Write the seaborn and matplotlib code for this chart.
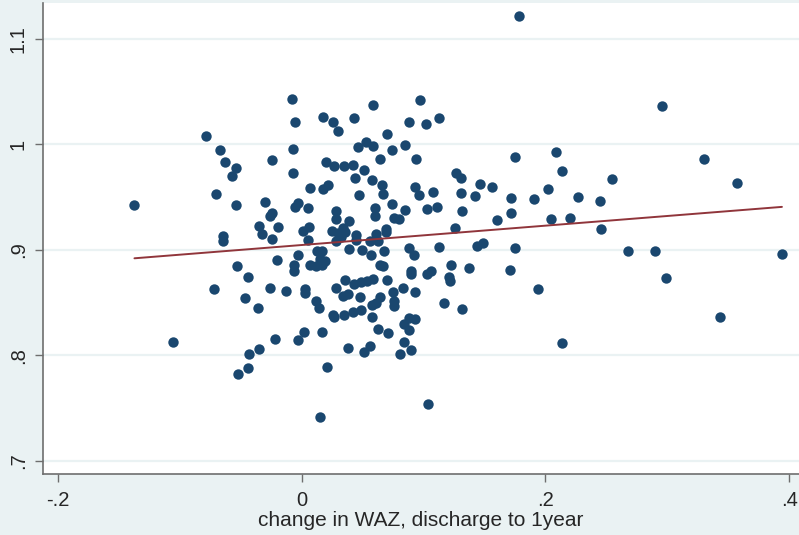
import matplotlib
matplotlib.use("Agg")
import matplotlib.pyplot as plt
import seaborn as sns
import pandas as pd

# change in WAZ, discharge to 1 year (x) and outcome (y)
waz_change = [
    -0.137, -0.105, -0.078, -0.072, -0.070, -0.067, -0.064, -0.064, -0.063, -0.057,
    -0.054, -0.054, -0.053, -0.052, -0.046, -0.044, -0.043, -0.044, -0.035, -0.036,
    -0.026, -0.022, -0.020, -0.013, -0.006, -0.006, -0.003, -0.003, 0.002, 0.003,
    0.003, 0.012, 0.014, 0.017, 0.021, 0.015,
    -0.008, -0.005, -0.007, -0.024, -0.007, -0.030, -0.024, -0.026, -0.003, -0.005,
    -0.035, -0.019, -0.032, -0.024, 0.001, 0.005, 0.006, 0.005,
    0.018, 0.026, 0.030, 0.043, 0.059, 0.053, 0.059, 0.046, 0.070, 0.074,
    0.064, 0.020, 0.027, 0.035, 0.042, 0.051, 0.044, 0.058, 0.066, 0.007,
    0.018, 0.022, 0.047, 0.067, 0.028, 0.028, 0.060, 0.060, 0.025, 0.030,
    0.034, 0.039, 0.036, 0.032, 0.028, 0.045, 0.061, 0.039, 0.045, 0.050,
    0.056, 0.013, 0.017, 0.057, 0.007, 0.012, 0.017, 0.019, 0.015, 0.064,
    0.028, 0.036, 0.043, 0.049, 0.054, 0.059, 0.034, 0.038, 0.048, 0.058,
    0.061, 0.064, 0.026, 0.027, 0.035, 0.042, 0.049, 0.058, 0.063, 0.038,
    0.056, 0.051,
    0.097, 0.088, 0.102, 0.113, 0.085, 0.094, 0.175, 0.093, 0.096, 0.108,
    0.127, 0.131, 0.146, 0.156, 0.131, 0.142, 0.172, 0.074, 0.085, 0.103,
    0.111, 0.132, 0.076, 0.080, 0.172, 0.160, 0.126, 0.069, 0.069, 0.063,
    0.068, 0.088, 0.113, 0.144, 0.149, 0.175, 0.092,
    0.067, 0.090, 0.090, 0.103, 0.106, 0.123, 0.137, 0.171, 0.070, 0.121,
    0.122, 0.083, 0.075, 0.093, 0.076, 0.076, 0.117, 0.132, 0.071, 0.088,
    0.093, 0.084, 0.088, 0.084, 0.090, 0.081, 0.104,
    0.178, 0.296, 0.209, 0.214, 0.330, 0.357, 0.255, 0.202, 0.191, 0.227,
    0.245, 0.205, 0.220, 0.246, 0.268, 0.290, 0.394, 0.299, 0.194, 0.343,
    0.214,
]
outcome = [
    0.942, 0.813, 1.008, 0.863, 0.953, 0.995, 0.913, 0.908, 0.983, 0.970,
    0.978, 0.942, 0.885, 0.782, 0.854, 0.874, 0.801, 0.788, 0.806, 0.845,
    0.864, 0.815, 0.890, 0.861, 0.886, 0.880, 0.895, 0.814, 0.822, 0.863,
    0.859, 0.851, 0.845, 0.822, 0.789, 0.741,
    1.043, 1.021, 0.996, 0.985, 0.973, 0.945, 0.935, 0.932, 0.944, 0.941,
    0.923, 0.922, 0.915, 0.910, 0.918, 0.940, 0.922, 0.909,
    1.026, 1.021, 1.013, 1.025, 1.037, 1.002, 0.998, 0.997, 1.010, 0.995,
    0.986, 0.983, 0.979, 0.979, 0.980, 0.976, 0.968, 0.966, 0.961, 0.959,
    0.958, 0.961, 0.952, 0.953, 0.937, 0.929, 0.940, 0.932, 0.918, 0.916,
    0.921, 0.927, 0.917, 0.912, 0.908, 0.914, 0.915, 0.901, 0.909, 0.900,
    0.908, 0.899, 0.899, 0.895, 0.886, 0.885, 0.886, 0.889, 0.891, 0.886,
    0.864, 0.871, 0.868, 0.869, 0.870, 0.872, 0.856, 0.858, 0.855, 0.848,
    0.850, 0.855, 0.838, 0.836, 0.838, 0.841, 0.843, 0.836, 0.825, 0.807,
    0.809, 0.803,
    1.042, 1.021, 1.019, 1.025, 0.999, 0.986, 0.988, 0.960, 0.952, 0.955,
    0.973, 0.968, 0.962, 0.960, 0.954, 0.951, 0.949, 0.943, 0.938, 0.939,
    0.941, 0.937, 0.930, 0.929, 0.935, 0.928, 0.921, 0.920, 0.917, 0.908,
    0.899, 0.902, 0.903, 0.904, 0.906, 0.902, 0.895,
    0.885, 0.880, 0.877, 0.877, 0.880, 0.886, 0.883, 0.881, 0.871, 0.874,
    0.870, 0.864, 0.860, 0.860, 0.851, 0.847, 0.850, 0.844, 0.821, 0.835,
    0.834, 0.830, 0.824, 0.813, 0.805, 0.801, 0.754,
    1.122, 1.036, 0.993, 0.975, 0.986, 0.963, 0.967, 0.958, 0.948, 0.950,
    0.946, 0.929, 0.930, 0.920, 0.899, 0.899, 0.896, 0.873, 0.863, 0.836,
    0.812,
]

x_ticks = [-0.2, 0.0, 0.2, 0.4]
x_tick_labels = ["-.2", "0", ".2", ".4"]
y_ticks = [0.7, 0.8, 0.9, 1.0, 1.1]
y_tick_labels = [".7", ".8", ".9", "1", "1.1"]
x_label = "change in WAZ, discharge to 1year"

df = pd.DataFrame({"x": waz_change, "y": outcome})

sns.set_theme(style="white")
plt.rcParams["font.family"] = ["Liberation Sans", "DejaVu Sans"]

bg = "#EAF2F3"
fig = plt.figure(figsize=(7.99, 5.35), dpi=100, facecolor=bg)
ax = fig.add_axes([43 / 799, 61 / 535, 756 / 799, 471 / 535])
ax.set_facecolor("white")

for yt in y_ticks:
    ax.axhline(yt, color=bg, lw=1.6, zorder=0)

sns.scatterplot(data=df, x="x", y="y", ax=ax, color="#1A476F", s=56,
                linewidth=0, zorder=3)
sns.regplot(data=df, x="x", y="y", ax=ax, scatter=False, ci=None,
            color="#90353B", line_kws={"lw": 1.4, "zorder": 4})

ax.set_xlim(-0.212, 0.408)
ax.set_ylim(0.6874, 1.134)
ax.set_xticks(x_ticks)
ax.set_xticklabels(x_tick_labels)
ax.set_yticks(y_ticks)
ax.set_yticklabels(y_tick_labels, rotation=90, va="center")
ax.set_xlabel(x_label, fontsize=15, labelpad=1)
ax.set_ylabel("")
ax.tick_params(axis="both", labelsize=14.5, length=6, width=1, color="#6E6E6E",
               direction="out", left=True, bottom=True)
ax.tick_params(axis="x", pad=6)
ax.tick_params(axis="y", pad=5)

for s in ["top", "right"]:
    ax.spines[s].set_visible(False)
for s in ["left", "bottom"]:
    ax.spines[s].set_color("#6E6E6E")
    ax.spines[s].set_linewidth(1.2)

fig.savefig("out.png", dpi=100, facecolor=bg)
